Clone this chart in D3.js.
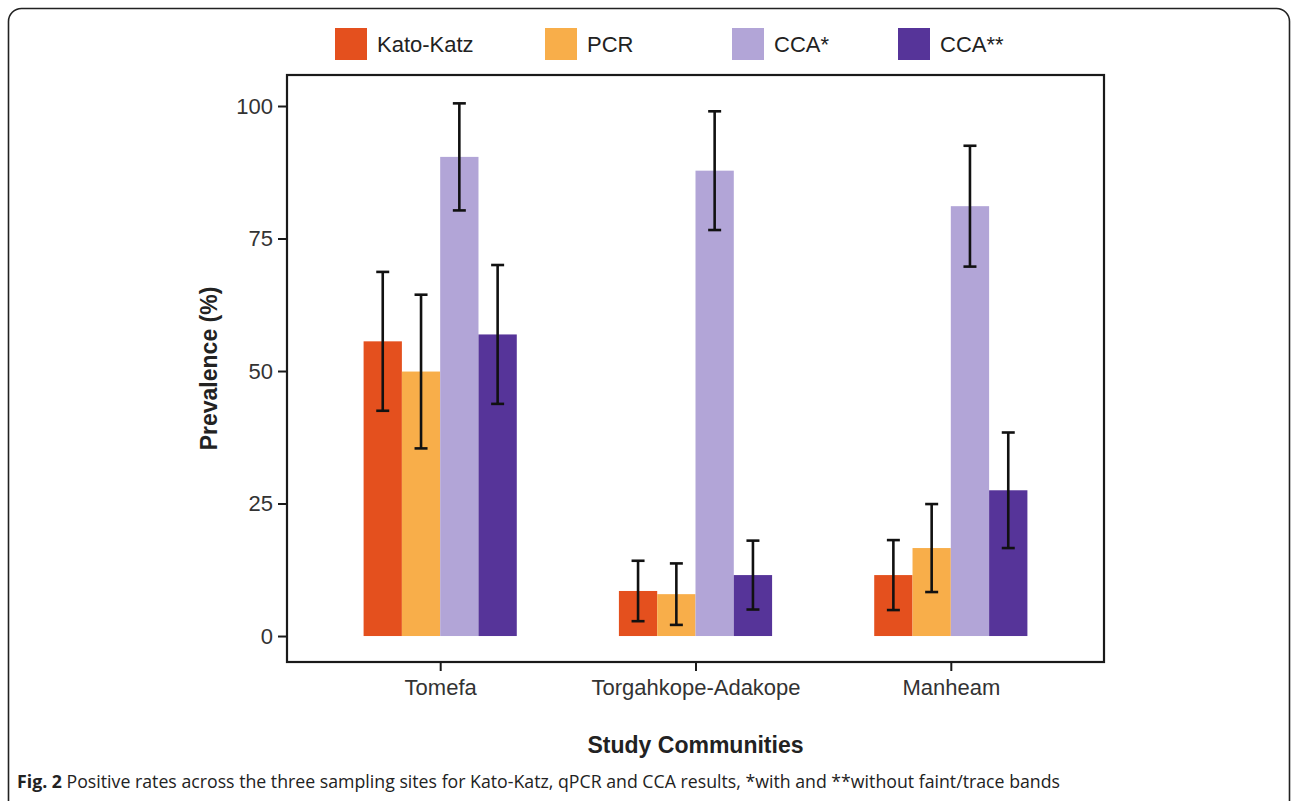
<!DOCTYPE html>
<html>
<head>
<meta charset="utf-8">
<script src="https://cdn.jsdelivr.net/npm/d3@7"></script>
<style>
  body { margin: 0; background: #fff; }
  svg text { font-family: "Liberation Sans", Arial, sans-serif; }
</style>
</head>
<body>
<svg width="1295" height="801"></svg>
<script>
var svg = d3.select("svg"),
    width = +svg.attr("width"),
    height = +svg.attr("height");

// data
var communities = ["Tomefa", "Torgahkope-Adakope", "Manheam"];
var methods = ["Kato-Katz", "PCR", "CCA*", "CCA**"];
var methodColors = ["#e4501e", "#f8ae4a", "#b2a5d7", "#563499"];
var katoKatz = [55.6, 8.5, 11.5];
var katoKatzErr = [13.1, 5.7, 6.6];
var pcr = [49.9, 7.9, 16.6];
var pcrErr = [14.5, 5.8, 8.3];
var ccaWith = [90.4, 87.8, 81.1];
var ccaWithErr = [10.1, 11.2, 11.4];
var ccaWithout = [56.9, 11.5, 27.5];
var ccaWithoutErr = [13.1, 6.5, 10.9];
var yTicks = [0, 25, 50, 75, 100];

var values = [katoKatz, pcr, ccaWith, ccaWithout];
var errs = [katoKatzErr, pcrErr, ccaWithErr, ccaWithoutErr];

var rows = [];
communities.forEach(function (c, i) {
  methods.forEach(function (m, j) {
    rows.push({community: c, method: m, value: values[j][i], err: errs[j][i]});
  });
});

// outer figure frame
svg.append("rect")
  .attr("x", 8.5).attr("y", 8.5)
  .attr("width", 1281).attr("height", 830)
  .attr("rx", 13)
  .attr("fill", "none")
  .attr("stroke", "#222")
  .attr("stroke-width", 1.6);

var panel = {left: 287, right: 1104, top: 75, bottom: 662};

var x = d3.scalePoint()
  .domain(communities)
  .range([panel.left, panel.right])
  .padding(0.6);

var xInner = d3.scaleBand()
  .domain(methods)
  .range([-x.step() * 0.3, x.step() * 0.3]);

var y = d3.scaleLinear()
  .domain([-4.9, 105.85])
  .range([panel.bottom, panel.top]);

var color = d3.scaleOrdinal().domain(methods).range(methodColors);

// bars
svg.append("g")
  .selectAll("rect")
  .data(rows)
  .enter()
  .append("rect")
  .attr("x", d => x(d.community) + xInner(d.method))
  .attr("width", xInner.bandwidth())
  .attr("y", d => y(d.value))
  .attr("height", d => y(0) - y(d.value))
  .attr("fill", d => color(d.method));

// error bars
var capHalf = 6.5;
var eb = svg.append("g")
  .attr("stroke", "#111")
  .attr("stroke-width", 2.6)
  .selectAll("g")
  .data(rows)
  .enter()
  .append("g")
  .attr("transform", d => "translate(" + (x(d.community) + xInner(d.method) + xInner.bandwidth() / 2) + ",0)");

eb.append("line")
  .attr("y1", d => y(d.value + d.err))
  .attr("y2", d => y(d.value - d.err));
eb.append("line")
  .attr("x1", -capHalf).attr("x2", capHalf)
  .attr("y1", d => y(d.value + d.err)).attr("y2", d => y(d.value + d.err));
eb.append("line")
  .attr("x1", -capHalf).attr("x2", capHalf)
  .attr("y1", d => y(d.value - d.err)).attr("y2", d => y(d.value - d.err));

// panel box
svg.append("rect")
  .attr("x", panel.left).attr("y", panel.top)
  .attr("width", panel.right - panel.left)
  .attr("height", panel.bottom - panel.top)
  .attr("fill", "none")
  .attr("stroke", "#1a1a1a")
  .attr("stroke-width", 2.2);

var font = "'Liberation Sans', Arial, sans-serif";

// axes
var yAxis = svg.append("g")
  .attr("transform", "translate(" + panel.left + ",0)")
  .call(d3.axisLeft(y).tickValues(yTicks).tickSize(9).tickPadding(5));
yAxis.select(".domain").remove();
yAxis.selectAll("line").attr("stroke", "#1a1a1a").attr("stroke-width", 2);
yAxis.selectAll("text")
  .attr("font-size", "22px")
  .attr("fill", "#333")
  .style("font-family", font);

var xAxis = svg.append("g")
  .attr("transform", "translate(0," + panel.bottom + ")")
  .call(d3.axisBottom(x).tickSize(9).tickPadding(8));
xAxis.select(".domain").remove();
xAxis.selectAll("line").attr("stroke", "#1a1a1a").attr("stroke-width", 2);
xAxis.selectAll("text")
  .attr("font-size", "22px")
  .attr("fill", "#333")
  .style("font-family", font);

// axis titles
svg.append("text")
  .attr("x", (panel.left + panel.right) / 2)
  .attr("y", 753)
  .attr("text-anchor", "middle")
  .attr("font-size", "23px")
  .attr("font-weight", "bold")
  .attr("fill", "#222")
  .style("font-family", font)
  .text("Study Communities");

svg.append("text")
  .attr("transform", "translate(217," + (panel.top + panel.bottom) / 2 + ") rotate(-90)")
  .attr("text-anchor", "middle")
  .attr("font-size", "23px")
  .attr("font-weight", "bold")
  .attr("fill", "#222")
  .style("font-family", font)
  .text("Prevalence (%)");

// legend
var legendX = [335, 545, 732, 898];
var leg = svg.append("g")
  .selectAll("g")
  .data(methods)
  .enter()
  .append("g")
  .attr("transform", (d, i) => "translate(" + legendX[i] + ",28)");
leg.append("rect")
  .attr("width", 32).attr("height", 32)
  .attr("fill", d => color(d));
leg.append("text")
  .attr("x", 42).attr("y", 24)
  .attr("font-size", "22px")
  .attr("fill", "#222")
  .style("font-family", font)
  .text(d => d);

// caption
var cap = svg.append("text")
  .attr("x", 17).attr("y", 788)
  .attr("font-size", "18px")
  .attr("fill", "#222")
  .attr("textLength", 1043)
  .attr("lengthAdjust", "spacingAndGlyphs")
  .style("font-family", "'Open Sans', 'Noto Sans', sans-serif");
cap.append("tspan").attr("font-weight", "bold").text("Fig. 2");
cap.append("tspan").text(" Positive rates across the three sampling sites for Kato-Katz, qPCR and CCA results, *with and **without faint/trace bands");
</script>
</body>
</html>
